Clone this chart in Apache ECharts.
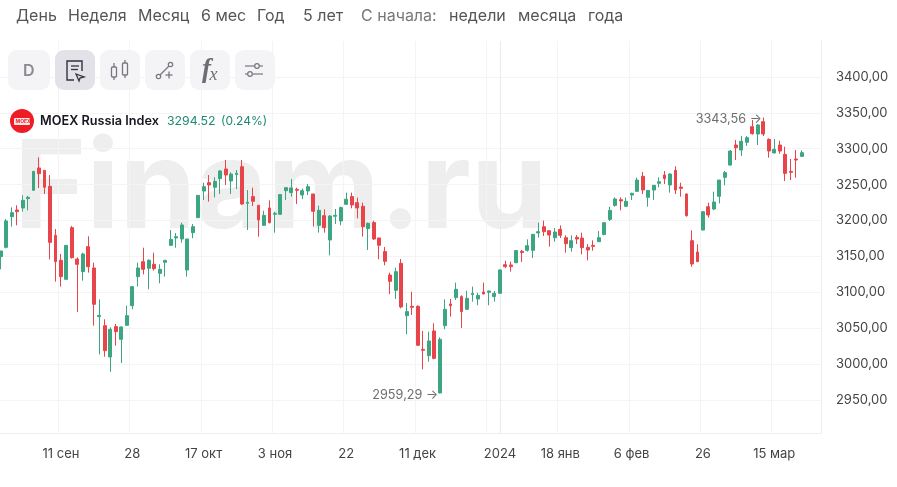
<!DOCTYPE html>
<html><head><meta charset="utf-8">
<style>html,body{margin:0;padding:0;background:#fff;overflow:hidden}#c{width:897px;height:487px}</style>
<script src="https://cdn.jsdelivr.net/npm/echarts@6/dist/echarts.min.js"></script>
</head><body><div id="c"></div>
<script>
const dates = ['25 авг','28 авг','29 авг','30 авг','31 авг','1 сен','4 сен','5 сен','6 сен','7 сен','8 сен','11 сен','12 сен','13 сен','14 сен','15 сен','18 сен','19 сен','20 сен','21 сен','22 сен','25 сен','26 сен','27 сен','28 сен','29 сен','2 окт','3 окт','4 окт','5 окт','6 окт','9 окт','10 окт','11 окт','12 окт','13 окт','16 окт','17 окт','18 окт','19 окт','20 окт','23 окт','24 окт','25 окт','26 окт','27 окт','30 окт','31 окт','1 ноя','2 ноя','3 ноя','6 ноя','7 ноя','8 ноя','9 ноя','10 ноя','13 ноя','14 ноя','15 ноя','16 ноя','17 ноя','20 ноя','21 ноя','22 ноя','23 ноя','24 ноя','27 ноя','28 ноя','29 ноя','30 ноя','1 дек','4 дек','5 дек','6 дек','7 дек','8 дек','11 дек','12 дек','13 дек','14 дек','15 дек','18 дек','19 дек','20 дек','21 дек','22 дек','25 дек','26 дек','27 дек','28 дек','29 дек','3 янв','4 янв','5 янв','8 янв','9 янв','10 янв','11 янв','12 янв','15 янв','16 янв','17 янв','18 янв','19 янв','22 янв','23 янв','24 янв','25 янв','26 янв','29 янв','30 янв','31 янв','1 фев','2 фев','5 фев','6 фев','7 фев','8 фев','9 фев','12 фев','13 фев','14 фев','15 фев','16 фев','19 фев','20 фев','21 фев','22 фев','26 фев','27 фев','28 фев','29 фев','1 мар','4 мар','5 мар','6 мар','7 мар','11 мар','12 мар','13 мар','14 мар','15 мар','18 мар','19 мар','20 мар','21 мар','22 мар'];
const opens = [3149.7,3162.7,3205.4,3214.7,3217.5,3230.5,3242.1,3273.2,3269.9,3247.6,
3179.4,3144.6,3118.1,3190.1,3146.4,3128.8,3163.6,3133.9,3066.1,3053.5,
3009.9,3052.2,3034.5,3054.0,3081.4,3121.8,3142.7,3133.4,3139.0,3126.4,
3141.8,3165.4,3175.7,3174.3,3131.1,3183.1,3204.0,3241.1,3252.8,3246.3,
3258.3,3271.8,3255.1,3263.9,3275.0,3224.0,3233.3,3221.2,3193.3,3217.5,
3208.7,3208.7,3241.6,3238.9,3243.5,3235.6,3241.2,3237.0,3193.3,3206.8,
3172.9,3205.9,3199.4,3222.6,3233.3,3224.9,3219.8,3188.7,3197.1,3175.7,
3156.7,3124.1,3102.8,3140.4,3067.5,3080.5,3080.5,3020.6,3011.8,3046.1,
2959.8,3053.6,3083.7,3092.6,3094.0,3076.3,3096.8,3090.7,3100.5,3100.0,
3094.0,3098.6,3138.5,3138.1,3141.3,3157.1,3158.5,3158.5,3182.7,3191.4,
3185.9,3176.1,3187.7,3176.1,3162.2,3176.6,3175.6,3162.6,3165.4,3170.5,
3180.7,3201.6,3221.1,3229.0,3219.8,3235.5,3240.7,3261.6,3232.3,3242.5,
3251.8,3263.4,3249.5,3269.9,3246.7,3236.9,3171.9,3156.1,3186.8,3219.3,
3216.0,3233.7,3260.2,3277.3,3305.2,3298.2,3308.9,3330.7,3320.5,3337.7,
3313.1,3294.1,3305.2,3292.2,3268.5,3285.7,3289.4];
const closes = [3157.6,3199.4,3211.0,3212.4,3228.1,3232.3,3268.5,3265.3,3246.3,3169.6,
3142.7,3121.8,3165.4,3148.3,3139.0,3153.4,3135.7,3083.3,3067.9,3018.7,
3048.4,3045.2,3051.7,3067.5,3107.9,3133.9,3132.0,3144.6,3132.9,3132.0,
3144.6,3173.8,3177.5,3193.8,3174.3,3191.5,3235.1,3247.2,3249.5,3254.6,
3269.0,3263.4,3264.8,3265.8,3223.0,3225.4,3226.8,3200.7,3207.2,3197.0,
3210.1,3236.1,3245.8,3245.4,3242.1,3241.6,3247.2,3212.9,3214.2,3190.1,
3206.3,3207.3,3218.0,3229.6,3221.7,3217.5,3191.5,3196.1,3174.3,3165.5,
3143.2,3115.3,3128.8,3079.6,3073.1,3079.1,3026.2,3019.2,3032.2,3008.0,
3034.5,3076.3,3081.4,3104.2,3073.1,3091.6,3098.6,3095.8,3097.7,3101.9,
3098.6,3131.1,3135.8,3135.8,3158.1,3155.3,3165.0,3180.8,3184.5,3184.5,
3179.8,3184.0,3179.4,3167.7,3171.9,3174.2,3162.2,3158.9,3164.0,3176.1,
3197.0,3214.2,3230.0,3227.2,3226.7,3237.9,3256.4,3242.5,3242.0,3249.0,
3254.1,3258.3,3264.8,3242.5,3244.8,3206.8,3139.4,3142.7,3212.3,3207.7,
3225.8,3256.4,3266.7,3296.8,3301.5,3310.3,3315.4,3321.0,3333.1,3320.5,
3296.8,3299.2,3296.8,3265.7,3267.1,3284.3,3294.52];
const lows = [3132.0,3161.3,3191.5,3193.3,3212.4,3214.2,3242.1,3245.3,3237.0,3145.9,
3114.8,3107.9,3118.1,3146.9,3072.6,3116.2,3127.4,3053.5,3013.6,3010.3,
2989.4,3025.7,3001.5,3054.0,3076.3,3107.9,3125.0,3104.2,3130.2,3112.5,
3121.8,3165.4,3162.2,3169.2,3121.8,3175.2,3204.0,3228.6,3226.3,3232.3,
3237.0,3249.5,3237.0,3243.9,3221.6,3186.8,3220.2,3177.5,3192.4,3196.1,
3183.1,3207.7,3228.6,3233.3,3223.1,3230.0,3235.6,3191.5,3183.1,3183.1,
3151.5,3195.2,3193.3,3221.7,3217.0,3203.1,3177.6,3159.0,3172.9,3146.0,
3137.6,3097.7,3090.7,3077.7,3041.5,3068.4,3025.2,2992.7,3003.4,3006.7,
2959.29,3048.5,3066.1,3089.3,3050.3,3075.4,3087.0,3081.9,3097.2,3081.9,
3087.0,3098.6,3133.9,3128.8,3140.4,3142.3,3156.7,3147.8,3176.2,3178.4,
3163.6,3170.5,3175.6,3155.2,3156.6,3167.3,3152.9,3144.5,3158.0,3170.1,
3179.4,3199.3,3219.3,3214.2,3219.3,3228.6,3239.7,3236.9,3219.3,3228.6,
3246.2,3250.9,3238.8,3236.9,3233.2,3205.4,3135.7,3142.2,3186.3,3204.0,
3214.6,3223.9,3249.0,3276.4,3284.3,3289.9,3303.8,3319.6,3305.2,3317.7,
3287.6,3293.6,3293.1,3255.1,3256.4,3259.7,3289.0];
const highs = [3157.6,3202.2,3218.4,3221.2,3235.1,3234.2,3268.5,3288.1,3269.9,3263.4,
3188.2,3153.4,3165.4,3192.4,3148.7,3155.2,3178.0,3141.3,3090.2,3062.4,
3051.2,3055.9,3052.6,3081.4,3107.9,3141.3,3162.2,3145.9,3155.2,3139.0,
3144.6,3186.8,3182.6,3197.0,3174.3,3195.2,3235.1,3252.8,3263.4,3260.2,
3270.4,3284.3,3267.2,3270.4,3284.3,3242.5,3245.8,3221.2,3213.7,3228.1,
3212.4,3236.1,3245.8,3257.9,3245.8,3244.4,3250.9,3237.0,3220.7,3215.6,
3207.3,3216.1,3219.4,3238.9,3238.9,3231.9,3224.9,3197.1,3199.8,3175.7,
3163.2,3127.4,3134.4,3146.4,3085.1,3100.9,3081.9,3046.1,3045.2,3056.8,
3037.3,3090.3,3090.7,3113.5,3095.8,3102.3,3107.9,3099.5,3113.5,3101.9,
3101.9,3132.0,3144.1,3142.7,3158.1,3159.0,3173.8,3180.8,3197.1,3199.8,
3185.9,3189.6,3193.3,3179.4,3179.4,3179.8,3183.1,3167.3,3172.4,3185.4,
3197.0,3219.3,3232.3,3232.3,3231.8,3238.8,3259.7,3267.6,3242.5,3249.5,
3260.2,3269.0,3265.7,3275.5,3252.7,3237.9,3186.3,3166.8,3212.3,3224.9,
3240.2,3256.4,3269.0,3298.2,3312.2,3317.7,3317.7,3340.0,3334.5,3343.56,
3314.5,3313.6,3311.2,3302.9,3285.7,3298.2,3297.8];
const priceTicks = [2950,3000,3050,3100,3150,3200,3250,3300,3350,3400];
const dateTicks = {'11 сен':'11 сен','28 сен':'28','17 окт':'17 окт','3 ноя':'3 ноя','22 ноя':'22','11 дек':'11 дек','3 янв':'2024','18 янв':'18 янв','6 фев':'6 фев','26 фев':'26','15 мар':'15 мар'};
const gridDates = ['11 сен','28 сен','17 окт','3 ноя','22 ноя','11 дек','28 дек','18 янв','6 фев','26 фев','15 мар'];
const periodLinks = [['День',16],['Неделя',68],['Месяц',138],['6 мес',201],['Год',257],['5 лет',303],['С начала:',361],['недели',449],['месяца',518],['года',588]];

const blanks = ['','',''];
const UP='#3ba681', DOWN='#e8454a';
const fmt = v => v.toFixed(2).replace('.',',');
const txt = (text,x,y,font,fill) => ({type:'text',silent:true,z:10,style:{text,x,y,font,fill,textVerticalAlign:'middle'}});
const UI = 'Inter, "Noto Sans", sans-serif';
const graphic = [];
graphic.push({type:'text',silent:true,z:-1,style:{text:'Finam.ru',x:14,y:191.5,font:'700 123px '+UI,fill:'#eeeeee',textVerticalAlign:'middle'}});
periodLinks.forEach(([t,x])=>graphic.push(txt(t,x,16.5,'400 16px '+UI,t==='С начала:'?'#777':'#555')));
[[8,42,'#f4f4f7'],[55,40,'#e2e2e8'],[100,40,'#f4f4f7'],[145,40,'#f4f4f7'],[190,40,'#f4f4f7'],[235,40,'#f4f4f7']].forEach(([x,w,c])=>
  graphic.push({type:'rect',silent:true,z:8,shape:{x,y:50,width:w,height:40,r:9},style:{fill:c}}));
graphic.push(txt('D',23,71,'600 16px '+UI,'#8a8a90'));
const poly=(pts,c,w,fill)=>({type:fill?'polygon':'polyline',silent:true,z:9,shape:{points:pts},style:{fill:fill||null,stroke:c,lineWidth:w||1.4}});
const box=(x,y,w,h,c,lw,r,fill)=>({type:'rect',silent:true,z:9,shape:{x,y,width:w,height:h,r:r||0},style:{fill:fill||null,stroke:c,lineWidth:lw}});
const ring=(cx,cy,r,c,lw,fill)=>({type:'circle',silent:true,z:9,shape:{cx,cy,r},style:{fill:fill||'#f4f4f7',stroke:c,lineWidth:lw}});
const DK='#33333c', GR='#77777d';
graphic.push(poly([[74,80],[67,80],[67,61],[82,61],[82,71]],DK,1.4));
graphic.push(poly([[71,66],[79,66]],DK,1.3),poly([[71,69.5],[78,69.5]],DK,1.3));
graphic.push(poly([[76,74],[84,77],[80,78],[79,81]],DK,1.3,'#e2e2e8'));
graphic.push(box(111.5,67,5,10,GR,1.3,1),poly([[114,63],[114,67]],GR,1.3),poly([[114,77],[114,80]],GR,1.3));
graphic.push(box(122.5,63,5,12,GR,1.3,1),poly([[125,60],[125,63]],GR,1.3),poly([[125,75],[125,78]],GR,1.3));
graphic.push(poly([[160,75],[169,66]],GR,1.2),ring(158.5,76.5,2.2,GR,1.2),ring(170.5,64.5,2.2,GR,1.2));
graphic.push(poly([[165.5,75],[172.5,75]],GR,1.3),poly([[169,71.5],[169,78.5]],GR,1.3));
graphic.push(txt('f',202,70,'bold italic 27px "Liberation Serif"','#6d6d73'));
graphic.push(txt('x',209.5,75.5,'italic 18px "Liberation Serif"','#6d6d73'));
graphic.push(poly([[245,66],[263,66]],GR,1.2),poly([[245,74],[263,74]],GR,1.2),ring(257,66,2.3,GR,1.2),ring(250,74,2.3,GR,1.2));
graphic.push({type:'circle',silent:true,z:9,shape:{cx:22,cy:121,r:12},style:{fill:'#ee1c25'}});
graphic.push({type:'rect',silent:true,z:9,shape:{x:14,y:118,width:16,height:7,r:1},style:{fill:'#fff',opacity:0.9}});
graphic.push(txt('MOEX',15.5,121.8,'700 5px '+UI,'#ee1c25'));
graphic.push(txt('MOEX Russia Index',40,121,'600 12.7px '+UI,'#16161f'));
graphic.push(txt('3294.52',167,121,'400 12.3px '+UI,'#1f8a70'));
graphic.push(txt('(0.24%)',221,121,'400 12px '+UI,'#1f8a70'));

const chart = echarts.init(document.getElementById('c'),null,{renderer:'canvas'});
chart.setOption({
  animation:false,
  backgroundColor:'#fff',
  graphic,
  grid:{left:-2.14,right:76.09,top:41,bottom:54,containLabel:false,outerBoundsMode:'none'},
  xAxis:{type:'category',data:dates.concat(blanks),boundaryGap:true,
    axisLine:{show:true,lineStyle:{color:'#eeeeee',width:1}},
    axisTick:{show:false,alignWithLabel:true,interval:(i,n)=>gridDates.includes(n)},
    splitLine:{show:true,interval:(i,n)=>gridDates.includes(n),lineStyle:{color:'#f4f4f4',width:1}},
    axisLabel:{interval:(i,n)=>n in dateTicks,formatter:v=>dateTicks[v]||'',color:'#444',fontSize:13,fontFamily:UI,margin:15,hideOverlap:false}},
  yAxis:{type:'value',position:'right',min:2904,max:3450.1,scale:true,
    axisLine:{show:true,lineStyle:{color:'#eeeeee',width:1}},
    axisTick:{show:false,customValues:priceTicks},
    splitLine:{show:true,lineStyle:{color:'#f4f4f4',width:1}},
    axisLabel:{customValues:priceTicks,formatter:fmt,color:'#444',fontSize:13,fontFamily:UI,margin:15,padding:[3,0,0,0]}},
  series:[{type:'candlestick',barWidth:3.4,z:5,
    data:opens.map((o,i)=>[o,closes[i],lows[i],highs[i]]),
    itemStyle:{color:UP,color0:DOWN,borderColor:UP,borderColor0:DOWN,borderWidth:1},
    markLine:{silent:true,symbol:'none',animation:false,label:{show:false},lineStyle:{color:'#ebebeb',width:1,type:'solid'},data:[{xAxis:91}]},
    markPoint:{silent:true,animation:false,symbol:'circle',symbolSize:1,itemStyle:{color:'transparent'},
      label:{show:true,position:'left',distance:2,offset:[1,2],color:'#6e6e6e',fontSize:12.7,fontFamily:UI},
      data:[{coord:[139,3343.56],value:fmt(3343.56)+' →'},{coord:[80,2959.29],value:fmt(2959.29)+' →'}]}
  }]
});
</script></body></html>
